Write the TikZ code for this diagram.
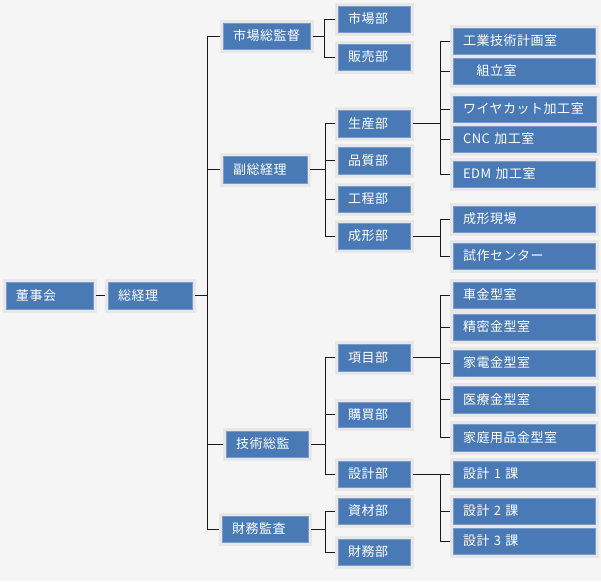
\documentclass[tikz,border=0pt]{standalone}
\usepackage{fontspec}
\newfontfamily\jpfont[LetterSpace=4]{Noto Sans CJK JP}
\definecolor{bg}{RGB}{245,245,245}
\definecolor{boxblue}{RGB}{74,122,181}
\definecolor{boxedge}{RGB}{122,154,202}
\definecolor{framegrey}{RGB}{231,231,231}
\definecolor{linecol}{RGB}{25,25,25}
\tikzset{
  box/.style={draw=boxedge, fill=boxblue, line width=1pt,
    preaction={draw=framegrey, line width=7pt},
    text=white, font={\jpfont\fontsize{13}{15}\selectfont},
    inner xsep=10pt, inner ysep=0pt, align=left, outer sep=3.5pt, anchor=center},
  conn/.style={draw=linecol, line width=1pt, line cap=rect},
}
\newcommand\bx[6]{%
  \pgfmathsetmacro\bxw{#4-#2}\pgfmathsetmacro\bxh{#5-#3}\pgfmathsetmacro\bxt{#4-#2-20}%
  \node[box, minimum width=\bxw pt, minimum height=\bxh pt, text width=\bxt pt] (#1) at ({(#2+#4)/2},{(#3+#5)/2}) {#6};}
\newcommand\branch[5]{%
  \draw[conn] (#1.east) -- (#1.east -| #2);
  \draw[conn] (#2 |- #3.west) -- (#2 |- #4.west);
  \foreach \c in {#5} \draw[conn] (#2 |- \c.west) -- (\c.west);}
\begin{document}
\begin{tikzpicture}[x=1pt,y=-1pt]
\fill[bg] (0,0) rectangle (601,581);
\useasboundingbox (0,0) rectangle (601,581);
% level 0-1
\bx{dsh}{6}{282}{93}{309}{董事会}
\bx{zjl}{108}{282}{192}{309}{総経理}
% level 2
\bx{sczj}{223}{23}{310}{49}{市場総監督}
\bx{fzjl}{223}{156}{307}{183}{副総経理}
\bx{jszj}{226}{431}{308}{457}{技術総監}
\bx{cwjc}{222}{516}{308}{542}{財務監査}
% level 3
\bx{scb}{338}{6}{410}{32}{市場部}
\bx{hmb}{338}{44}{410}{70}{販売部}
\bx{sanb}{338}{110}{410}{137}{生産部}
\bx{pzb}{338}{147}{410}{174}{品質部}
\bx{gcb}{338}{186}{410}{212}{工程部}
\bx{cxb}{338}{223}{410}{249}{成形部}
\bx{xmb}{338}{344}{410}{371}{項目部}
\bx{gmb}{338}{402}{410}{427}{購買部}
\bx{sjb}{338}{461}{410}{487}{設計部}
\bx{zcb}{338}{498}{410}{524}{資材部}
\bx{cwb}{338}{539}{410}{565}{財務部}
% level 4
\bx{gyjs}{453}{28}{595}{54}{工業技術計画室}
\bx{zls}{453}{58}{595}{84}{　組立室}
\bx{wire}{453}{96}{596}{122}{ワイヤカット加工室}
\bx{cnc}{453}{126}{596}{152}{CNC 加工室}
\bx{edm}{453}{161}{595}{187}{EDM 加工室}
\bx{cxxc}{453}{206}{595}{232}{成形現場}
\bx{szc}{453}{243}{595}{269}{試作センター}
\bx{che}{453}{282}{595}{308}{車金型室}
\bx{jm}{453}{314}{595}{340}{精密金型室}
\bx{jd}{453}{350}{595}{376}{家電金型室}
\bx{yl}{453}{386}{595}{413}{医療金型室}
\bx{jt}{453}{424}{595}{451}{家庭用品金型室}
\bx{ka}{453}{461}{595}{487}{設計 1 課}
\bx{kb}{453}{498}{595}{524}{設計 2 課}
\bx{kc}{453}{528}{595}{554}{設計 3 課}
% buses
\coordinate (b0) at (207,0);
\coordinate (b1) at (324,0);
\coordinate (b2) at (325,0);
\coordinate (b3) at (440,0);
% connectors
\draw[conn] (dsh) -- (zjl);
\branch{zjl}{b0}{sczj}{cwjc}{sczj,fzjl,jszj,cwjc}
\branch{sczj}{b1}{scb}{hmb}{scb,hmb}
\branch{fzjl}{b2}{sanb}{cxb}{sanb,pzb,gcb,cxb}
\branch{jszj}{b2}{xmb}{sjb}{xmb,gmb,sjb}
\branch{cwjc}{b2}{zcb}{cwb}{zcb,cwb}
\branch{sanb}{b3}{gyjs}{edm}{gyjs,zls,wire,cnc,edm}
\branch{cxb}{b3}{cxxc}{szc}{cxxc,szc}
\branch{xmb}{b3}{che}{jt}{che,jm,jd,yl,jt}
\branch{sjb}{b3}{ka}{kc}{ka,kb,kc}
\end{tikzpicture}
\end{document}
